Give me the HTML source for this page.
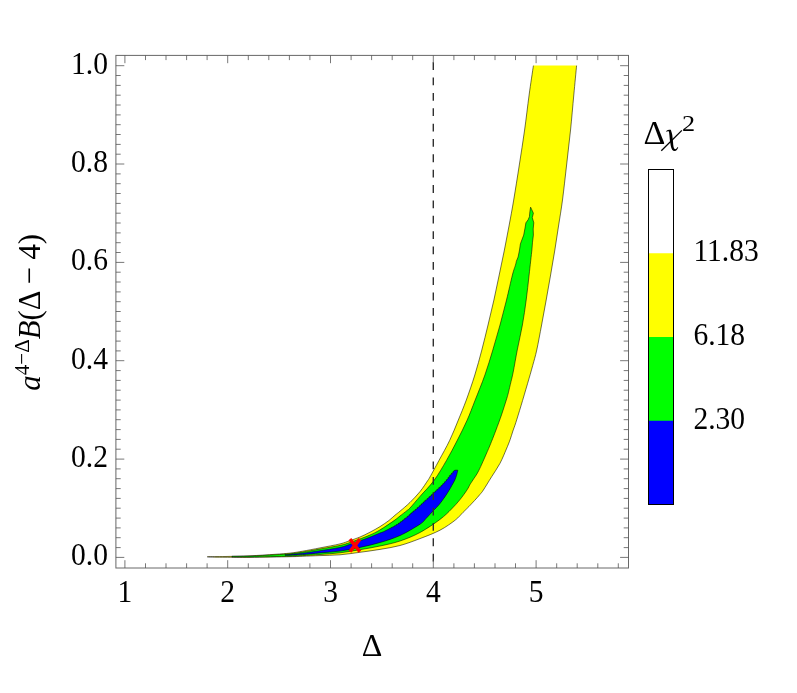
<!DOCTYPE html>
<html><head><meta charset="utf-8"><title>Contour plot</title>
<style>html,body{margin:0;padding:0;background:#fff;}body{width:797px;height:693px;position:relative;overflow:hidden;font-family:"Liberation Serif",serif;}</style>
</head><body>
<svg width="797" height="693" viewBox="0 0 797 693" style="position:absolute;left:0;top:0;will-change:transform">
<rect width="797" height="693" fill="#fff"/>
<path d="M207.30,556.68 C210.25,556.65 217.88,556.65 225.00,556.50 C232.12,556.35 241.67,556.17 250.00,555.80 C258.33,555.43 268.33,554.75 275.00,554.30 C281.67,553.85 285.42,553.62 290.00,553.10 C294.58,552.58 297.50,552.07 302.50,551.20 C307.50,550.33 313.75,549.12 320.00,547.90 C326.25,546.68 335.00,545.12 340.00,543.90 C345.00,542.68 346.67,541.75 350.00,540.60 C353.33,539.45 356.67,538.40 360.00,537.00 C363.33,535.60 366.67,533.93 370.00,532.20 C373.33,530.47 376.85,528.55 380.00,526.60 C383.15,524.65 386.40,522.40 388.90,520.50 C391.40,518.60 393.15,516.75 395.00,515.20 C396.85,513.65 397.50,513.33 400.00,511.20 C402.50,509.07 406.67,505.67 410.00,502.40 C413.33,499.13 417.05,495.23 420.00,491.60 C422.95,487.97 426.03,483.05 427.70,480.60 C429.37,478.15 428.13,480.23 430.00,476.90 C431.87,473.57 435.62,466.70 438.90,460.60 C442.18,454.50 446.47,447.07 449.70,440.31 C452.93,433.55 455.53,426.77 458.30,420.05 C461.07,413.33 463.55,407.51 466.30,400.00 C469.05,392.49 472.22,383.33 474.80,375.00 C477.38,366.67 479.60,358.33 481.80,350.00 C484.00,341.67 485.98,333.33 488.00,325.00 C490.02,316.67 492.03,308.33 493.90,300.00 C495.77,291.67 497.45,283.33 499.20,275.00 C500.95,266.67 502.73,258.33 504.40,250.00 C506.07,241.67 507.65,233.33 509.20,225.00 C510.75,216.67 512.02,210.00 513.70,200.00 C515.38,190.00 517.48,176.67 519.30,165.00 C521.12,153.33 522.97,141.67 524.60,130.00 C526.23,118.33 527.63,105.73 529.10,95.00 C530.57,84.27 532.68,70.50 533.40,65.60 L576.60,65.60 C576.13,70.50 574.81,84.27 573.80,95.00 C572.79,105.73 571.75,118.33 570.55,130.00 C569.35,141.67 567.94,153.33 566.60,165.00 C565.26,176.67 563.82,190.00 562.50,200.00 C561.18,210.00 559.98,216.67 558.70,225.00 C557.43,233.33 556.20,241.67 554.85,250.00 C553.50,258.33 552.04,266.67 550.60,275.00 C549.16,283.33 547.70,291.67 546.20,300.00 C544.70,308.33 543.18,316.67 541.60,325.00 C540.02,333.33 538.23,343.23 536.75,350.00 C535.27,356.77 534.24,359.97 532.70,365.60 C531.16,371.23 529.45,377.10 527.50,383.80 C525.55,390.50 522.95,399.32 521.00,405.80 C519.05,412.28 517.15,418.50 515.80,422.70 C514.45,426.90 513.85,428.17 512.90,431.00 C511.95,433.83 511.18,436.70 510.10,439.70 C509.02,442.70 508.08,445.07 506.40,449.00 C504.72,452.93 502.47,458.67 500.00,463.30 C497.53,467.93 494.37,472.35 491.60,476.80 C488.83,481.25 485.33,487.07 483.40,490.00 C481.47,492.93 481.47,492.65 480.00,494.40 C478.53,496.15 476.45,498.47 474.60,500.50 C472.75,502.53 470.82,504.63 468.90,506.60 C466.98,508.57 465.37,510.05 463.10,512.30 C460.83,514.55 459.15,517.09 455.30,520.07 C451.45,523.05 445.88,527.11 440.00,530.20 C434.12,533.29 426.67,536.05 420.00,538.60 C413.33,541.15 406.67,543.70 400.00,545.50 C393.33,547.30 386.67,548.27 380.00,549.40 C373.33,550.53 366.67,551.40 360.00,552.30 C353.33,553.20 346.67,554.25 340.00,554.80 C333.33,555.35 326.25,555.35 320.00,555.60 C313.75,555.85 307.50,556.12 302.50,556.30 C297.50,556.48 298.75,556.51 290.00,556.69 C281.25,556.87 260.83,557.29 250.00,557.39 C239.17,557.49 232.12,557.36 225.00,557.29 C217.88,557.22 210.25,557.04 207.30,556.99 Z" fill="#ffff00"/>
<path d="M207.30,556.68 C210.25,556.65 217.88,556.65 225.00,556.50 C232.12,556.35 241.67,556.17 250.00,555.80 C258.33,555.43 268.33,554.75 275.00,554.30 C281.67,553.85 285.42,553.62 290.00,553.10 C294.58,552.58 297.50,552.07 302.50,551.20 C307.50,550.33 313.75,549.12 320.00,547.90 C326.25,546.68 335.00,545.12 340.00,543.90 C345.00,542.68 346.67,541.75 350.00,540.60 C353.33,539.45 356.67,538.40 360.00,537.00 C363.33,535.60 366.67,533.93 370.00,532.20 C373.33,530.47 376.85,528.55 380.00,526.60 C383.15,524.65 386.40,522.40 388.90,520.50 C391.40,518.60 393.15,516.75 395.00,515.20 C396.85,513.65 397.50,513.33 400.00,511.20 C402.50,509.07 406.67,505.67 410.00,502.40 C413.33,499.13 417.05,495.23 420.00,491.60 C422.95,487.97 426.03,483.05 427.70,480.60 C429.37,478.15 428.13,480.23 430.00,476.90 C431.87,473.57 435.62,466.70 438.90,460.60 C442.18,454.50 446.47,447.07 449.70,440.31 C452.93,433.55 455.53,426.77 458.30,420.05 C461.07,413.33 463.55,407.51 466.30,400.00 C469.05,392.49 472.22,383.33 474.80,375.00 C477.38,366.67 479.60,358.33 481.80,350.00 C484.00,341.67 485.98,333.33 488.00,325.00 C490.02,316.67 492.03,308.33 493.90,300.00 C495.77,291.67 497.45,283.33 499.20,275.00 C500.95,266.67 502.73,258.33 504.40,250.00 C506.07,241.67 507.65,233.33 509.20,225.00 C510.75,216.67 512.02,210.00 513.70,200.00 C515.38,190.00 517.48,176.67 519.30,165.00 C521.12,153.33 522.97,141.67 524.60,130.00 C526.23,118.33 527.63,105.73 529.10,95.00 C530.57,84.27 532.68,70.50 533.40,65.60 " fill="none" stroke="#000" stroke-opacity="0.55" stroke-width="1.0" stroke-linejoin="round"/>
<path d="M207.30,556.99 C210.25,557.04 217.88,557.22 225.00,557.29 C232.12,557.36 239.17,557.49 250.00,557.39 C260.83,557.29 281.25,556.87 290.00,556.69 C298.75,556.51 297.50,556.48 302.50,556.30 C307.50,556.12 313.75,555.85 320.00,555.60 C326.25,555.35 333.33,555.35 340.00,554.80 C346.67,554.25 353.33,553.20 360.00,552.30 C366.67,551.40 373.33,550.53 380.00,549.40 C386.67,548.27 393.33,547.30 400.00,545.50 C406.67,543.70 413.33,541.15 420.00,538.60 C426.67,536.05 434.12,533.29 440.00,530.20 C445.88,527.11 451.45,523.05 455.30,520.07 C459.15,517.09 460.83,514.55 463.10,512.30 C465.37,510.05 466.98,508.57 468.90,506.60 C470.82,504.63 472.75,502.53 474.60,500.50 C476.45,498.47 478.53,496.15 480.00,494.40 C481.47,492.65 481.47,492.93 483.40,490.00 C485.33,487.07 488.83,481.25 491.60,476.80 C494.37,472.35 497.53,467.93 500.00,463.30 C502.47,458.67 504.72,452.93 506.40,449.00 C508.08,445.07 509.02,442.70 510.10,439.70 C511.18,436.70 511.95,433.83 512.90,431.00 C513.85,428.17 514.45,426.90 515.80,422.70 C517.15,418.50 519.05,412.28 521.00,405.80 C522.95,399.32 525.55,390.50 527.50,383.80 C529.45,377.10 531.16,371.23 532.70,365.60 C534.24,359.97 535.27,356.77 536.75,350.00 C538.23,343.23 540.02,333.33 541.60,325.00 C543.18,316.67 544.70,308.33 546.20,300.00 C547.70,291.67 549.16,283.33 550.60,275.00 C552.04,266.67 553.50,258.33 554.85,250.00 C556.20,241.67 557.43,233.33 558.70,225.00 C559.98,216.67 561.18,210.00 562.50,200.00 C563.82,190.00 565.26,176.67 566.60,165.00 C567.94,153.33 569.35,141.67 570.55,130.00 C571.75,118.33 572.79,105.73 573.80,95.00 C574.81,84.27 576.13,70.50 576.60,65.60 " fill="none" stroke="#000" stroke-opacity="0.55" stroke-width="1.0" stroke-linejoin="round"/>
<path d="M232.00,556.28 C235.00,556.25 242.83,556.35 250.00,556.10 C257.17,555.85 268.33,555.18 275.00,554.80 C281.67,554.42 285.42,554.25 290.00,553.80 C294.58,553.35 297.50,552.90 302.50,552.10 C307.50,551.30 313.75,550.12 320.00,549.00 C326.25,547.88 335.00,546.48 340.00,545.40 C345.00,544.32 346.67,543.58 350.00,542.50 C353.33,541.42 356.67,540.20 360.00,538.95 C363.33,537.70 366.67,536.51 370.00,535.00 C373.33,533.49 375.98,532.30 380.00,529.90 C384.02,527.50 390.77,522.92 394.10,520.60 C397.43,518.28 397.82,517.70 400.00,516.00 C402.18,514.30 405.53,511.73 407.20,510.40 C408.87,509.07 407.87,510.33 410.00,508.00 C412.13,505.67 416.02,500.97 420.00,496.40 C423.98,491.83 429.48,486.60 433.90,480.60 C438.32,474.60 442.58,467.16 446.50,460.40 C450.42,453.65 453.95,446.81 457.40,440.08 C460.85,433.34 464.23,426.68 467.20,420.00 C470.17,413.32 472.25,407.50 475.20,400.00 C478.15,392.50 481.97,383.33 484.90,375.00 C487.83,366.67 490.28,358.33 492.80,350.00 C495.32,341.67 497.72,333.33 500.00,325.00 C502.28,316.67 504.43,308.33 506.50,300.00 C508.57,291.67 510.90,280.85 512.40,275.00 C513.90,269.15 514.85,267.17 515.50,264.90 C516.15,262.63 516.17,261.98 516.30,261.40 L516.30,261.40 L518.10,257.00 L519.50,250.00 L520.40,243.90 L522.00,239.50 L523.70,235.10 L525.00,228.10 L525.90,222.80 L528.10,219.80 L529.40,216.70 L529.90,211.40 L530.60,207.20 L530.60,207.20 L531.80,209.70 L533.40,213.20 L532.30,217.60 L533.80,222.80 L533.20,229.00 L533.40,235.10 L532.50,242.20 L531.90,250.00 L531.90,250.00 C531.43,254.17 530.05,266.67 529.10,275.00 C528.15,283.33 527.32,291.67 526.20,300.00 C525.08,308.33 523.89,316.67 522.40,325.00 C520.91,333.33 518.78,342.15 517.25,350.00 C515.72,357.85 514.36,366.33 513.20,372.10 C512.04,377.87 511.17,380.92 510.30,384.60 C509.43,388.28 508.67,391.63 508.00,394.20 C507.33,396.77 507.38,396.55 506.30,400.00 C505.22,403.45 503.22,409.90 501.50,414.90 C499.78,419.90 497.65,425.60 496.00,430.00 C494.35,434.40 493.05,437.70 491.60,441.30 C490.15,444.90 489.45,446.70 487.30,451.60 C485.15,456.50 481.10,465.97 478.70,470.70 C476.30,475.43 474.35,477.70 472.90,480.00 C471.45,482.30 470.97,482.87 470.00,484.50 C469.03,486.13 468.77,487.28 467.10,489.80 C465.43,492.32 462.60,496.40 460.00,499.60 C457.40,502.80 454.83,505.73 451.50,509.03 C448.17,512.33 445.25,515.49 440.00,519.40 C434.75,523.31 426.67,528.90 420.00,532.50 C413.33,536.10 406.67,538.75 400.00,541.00 C393.33,543.25 386.67,544.55 380.00,546.00 C373.33,547.45 366.67,548.57 360.00,549.70 C353.33,550.83 346.67,552.00 340.00,552.80 C333.33,553.60 326.25,554.03 320.00,554.50 C313.75,554.97 307.50,555.32 302.50,555.60 C297.50,555.88 298.75,555.97 290.00,556.20 C281.25,556.43 259.67,556.86 250.00,556.99 C240.33,557.12 235.00,556.99 232.00,556.99 Z" fill="#00ff00" stroke="#000" stroke-opacity="0.55" stroke-width="1.0" stroke-linejoin="round"/>
<path d="M285.00,554.90 L285.16,554.89 L285.33,554.88 L285.52,554.86 L285.72,554.85 L285.94,554.83 L286.18,554.82 L286.44,554.80 L286.72,554.78 L287.02,554.76 L287.36,554.73 L287.72,554.70 L288.11,554.67 L288.53,554.64 L288.98,554.60 L289.47,554.55 L290.00,554.50 L290.22,554.48 L290.44,554.46 L290.67,554.44 L290.90,554.41 L291.14,554.39 L291.38,554.37 L291.63,554.35 L291.89,554.32 L292.15,554.30 L292.41,554.27 L292.68,554.25 L292.96,554.22 L293.24,554.20 L293.52,554.17 L293.81,554.14 L294.10,554.11 L294.40,554.09 L294.70,554.06 L295.00,554.03 L295.31,554.00 L295.63,553.97 L295.94,553.93 L296.26,553.90 L296.58,553.87 L296.91,553.84 L297.24,553.80 L297.57,553.77 L297.91,553.73 L298.25,553.70 L298.59,553.66 L298.93,553.62 L299.28,553.58 L299.63,553.54 L299.98,553.50 L300.34,553.46 L300.69,553.42 L301.05,553.38 L301.41,553.34 L301.77,553.29 L302.13,553.25 L302.50,553.20 L302.76,553.17 L303.02,553.13 L303.29,553.10 L303.55,553.07 L303.82,553.03 L304.09,553.00 L304.36,552.96 L304.64,552.92 L304.91,552.89 L305.19,552.85 L305.47,552.81 L305.75,552.77 L306.04,552.74 L306.32,552.70 L306.61,552.66 L306.90,552.62 L307.19,552.58 L307.48,552.54 L307.77,552.50 L308.07,552.46 L308.36,552.42 L308.66,552.38 L308.96,552.33 L309.26,552.29 L309.56,552.25 L309.87,552.21 L310.17,552.16 L310.47,552.12 L310.78,552.08 L311.09,552.03 L311.40,551.99 L311.71,551.94 L312.02,551.90 L312.33,551.85 L312.64,551.81 L312.96,551.76 L313.27,551.71 L313.59,551.67 L313.90,551.62 L314.22,551.57 L314.54,551.53 L314.85,551.48 L315.17,551.43 L315.49,551.39 L315.81,551.34 L316.13,551.29 L316.45,551.24 L316.77,551.19 L317.10,551.14 L317.42,551.10 L317.74,551.05 L318.06,551.00 L318.38,550.95 L318.71,550.90 L319.03,550.85 L319.35,550.80 L319.68,550.75 L320.00,550.70 L320.28,550.66 L320.57,550.61 L320.85,550.57 L321.14,550.52 L321.44,550.48 L321.73,550.43 L322.03,550.39 L322.34,550.34 L322.64,550.30 L322.94,550.25 L323.25,550.20 L323.56,550.15 L323.87,550.11 L324.19,550.06 L324.50,550.01 L324.82,549.96 L325.14,549.91 L325.46,549.87 L325.78,549.82 L326.10,549.77 L326.42,549.72 L326.74,549.67 L327.07,549.62 L327.39,549.57 L327.72,549.52 L328.04,549.47 L328.36,549.42 L328.69,549.37 L329.01,549.32 L329.34,549.27 L329.66,549.22 L329.99,549.16 L330.31,549.11 L330.63,549.06 L330.95,549.01 L331.27,548.96 L331.59,548.91 L331.91,548.86 L332.22,548.81 L332.54,548.75 L332.85,548.70 L333.16,548.65 L333.47,548.60 L333.78,548.55 L334.08,548.50 L334.39,548.45 L334.69,548.40 L334.98,548.34 L335.28,548.29 L335.57,548.24 L335.86,548.19 L336.15,548.14 L336.43,548.09 L336.71,548.04 L336.99,547.99 L337.26,547.94 L337.53,547.89 L337.80,547.84 L338.06,547.79 L338.32,547.74 L338.57,547.69 L338.82,547.64 L339.07,547.59 L339.31,547.54 L339.54,547.50 L339.77,547.45 L340.00,547.40 L340.43,547.31 L340.85,547.21 L341.25,547.12 L341.63,547.03 L342.01,546.94 L342.36,546.85 L342.71,546.76 L343.04,546.67 L343.36,546.58 L343.67,546.49 L343.98,546.40 L344.27,546.31 L344.55,546.22 L344.83,546.13 L345.10,546.04 L345.37,545.95 L345.62,545.86 L345.88,545.77 L346.13,545.68 L346.38,545.59 L346.63,545.51 L346.87,545.42 L347.12,545.33 L347.36,545.23 L347.61,545.14 L347.86,545.05 L348.11,544.96 L348.36,544.87 L348.62,544.78 L348.88,544.68 L349.15,544.59 L349.43,544.49 L349.71,544.40 L350.00,544.30 L350.29,544.21 L350.57,544.11 L350.86,544.02 L351.14,543.92 L351.43,543.82 L351.71,543.73 L352.00,543.63 L352.29,543.53 L352.57,543.43 L352.86,543.33 L353.14,543.24 L353.43,543.14 L353.71,543.04 L354.00,542.94 L354.29,542.84 L354.57,542.74 L354.86,542.64 L355.14,542.54 L355.43,542.44 L355.71,542.33 L356.00,542.23 L356.29,542.13 L356.57,542.03 L356.86,541.93 L357.14,541.83 L357.43,541.72 L357.71,541.62 L358.00,541.52 L358.29,541.42 L358.57,541.31 L358.86,541.21 L359.14,541.11 L359.43,541.01 L359.71,540.90 L360.00,540.80 L360.29,540.70 L360.57,540.59 L360.86,540.49 L361.14,540.39 L361.43,540.29 L361.71,540.18 L362.00,540.08 L362.29,539.98 L362.57,539.87 L362.86,539.77 L363.14,539.67 L363.43,539.56 L363.71,539.46 L364.00,539.35 L364.29,539.25 L364.57,539.14 L364.86,539.04 L365.14,538.93 L365.43,538.83 L365.71,538.72 L366.00,538.62 L366.29,538.51 L366.57,538.41 L366.86,538.30 L367.14,538.19 L367.43,538.08 L367.71,537.98 L368.00,537.87 L368.29,537.76 L368.57,537.65 L368.86,537.54 L369.14,537.43 L369.43,537.32 L369.71,537.21 L370.00,537.10 L370.28,536.99 L370.56,536.88 L370.85,536.77 L371.13,536.65 L371.42,536.54 L371.72,536.42 L372.01,536.30 L372.30,536.18 L372.60,536.06 L372.89,535.94 L373.19,535.82 L373.49,535.70 L373.79,535.58 L374.08,535.46 L374.38,535.33 L374.67,535.21 L374.97,535.09 L375.26,534.97 L375.55,534.85 L375.84,534.73 L376.13,534.61 L376.42,534.49 L376.70,534.37 L376.98,534.26 L377.25,534.14 L377.53,534.03 L377.80,533.91 L378.06,533.80 L378.32,533.70 L378.58,533.59 L378.83,533.49 L379.07,533.38 L379.31,533.28 L379.55,533.19 L379.78,533.09 L380.00,533.00 L380.37,532.85 L380.71,532.72 L381.02,532.60 L381.29,532.50 L381.55,532.41 L381.78,532.33 L382.01,532.26 L382.22,532.19 L382.43,532.12 L382.64,532.04 L382.85,531.97 L383.08,531.88 L383.32,531.79 L383.57,531.68 L383.86,531.55 L384.17,531.41 L384.51,531.25 L384.90,531.06 L385.33,530.84 L385.80,530.60 L385.99,530.50 L386.18,530.41 L386.39,530.31 L386.59,530.21 L386.78,530.07 L387.00,529.96 L387.22,529.85 L387.44,529.74 L387.67,529.63 L387.91,529.52 L388.16,529.42 L388.41,529.31 L388.66,529.21 L388.92,529.11 L389.08,528.80 L389.34,528.68 L389.61,528.57 L389.89,528.46 L390.16,528.35 L390.45,528.25 L390.74,528.14 L391.03,528.04 L391.33,527.94 L391.43,527.48 L391.73,527.37 L392.03,527.26 L392.34,527.15 L392.65,527.05 L392.96,526.95 L393.28,526.86 L393.60,526.76 L393.93,526.67 L393.96,526.06 L394.28,525.96 L394.61,525.86 L394.94,525.76 L395.27,525.67 L395.60,525.58 L395.94,525.49 L396.28,525.41 L396.22,524.66 L396.56,524.57 L396.89,524.48 L397.23,524.39 L397.57,524.30 L397.91,524.22 L398.26,524.14 L398.60,524.05 L398.44,523.21 L398.78,523.12 L399.11,523.03 L399.44,522.94 L399.77,522.84 L400.10,522.74 L400.39,522.66 L400.68,522.57 L400.45,521.75 L400.74,521.65 L401.04,521.56 L401.34,521.46 L401.65,521.35 L401.95,521.25 L402.26,521.14 L402.58,521.03 L402.89,520.92 L402.65,520.10 L402.97,519.98 L403.29,519.87 L403.61,519.75 L403.93,519.63 L404.26,519.51 L404.58,519.38 L404.91,519.26 L404.66,518.44 L404.99,518.31 L405.31,518.18 L405.64,518.06 L405.97,517.93 L406.29,517.80 L406.62,517.67 L406.95,517.53 L407.27,517.40 L407.01,516.59 L407.34,516.45 L407.66,516.32 L407.98,516.19 L408.30,516.06 L408.62,515.93 L408.94,515.79 L409.25,515.66 L408.97,514.85 L409.28,514.72 L409.59,514.59 L409.90,514.47 L410.20,514.34 L410.50,514.21 L410.80,514.09 L411.09,513.96 L410.79,513.16 L411.08,513.04 L411.36,512.92 L411.64,512.80 L411.92,512.69 L412.19,512.57 L412.46,512.46 L412.72,512.35 L412.98,512.24 L413.23,512.13 L412.89,511.35 L413.13,511.25 L413.37,511.15 L413.61,511.05 L413.83,510.96 L414.06,510.87 L414.27,510.78 L414.48,510.70 L414.96,510.50 L415.38,510.33 L415.17,509.50 L415.49,509.37 L415.76,509.26 L416.00,509.17 L416.21,509.08 L416.39,509.01 L416.55,508.94 L416.70,508.88 L416.84,508.82 L416.98,508.76 L417.12,508.70 L417.28,508.63 L417.44,508.56 L417.02,507.81 L417.23,507.72 L417.47,507.60 L417.75,507.48 L418.08,507.33 L418.45,507.16 L418.88,506.97 L419.37,506.74 L419.32,505.83 L419.95,505.55 L420.14,505.46 L420.34,505.38 L420.54,505.29 L420.75,505.19 L420.96,505.10 L421.19,505.00 L421.41,504.90 L421.04,504.13 L421.28,504.02 L421.52,503.91 L421.77,503.80 L422.02,503.69 L422.28,503.57 L422.55,503.45 L422.82,503.33 L423.09,503.21 L423.37,503.09 L423.04,502.30 L423.33,502.17 L423.62,502.04 L423.91,501.91 L424.21,501.77 L424.51,501.64 L424.82,501.50 L425.13,501.36 L424.83,500.56 L425.14,500.42 L425.46,500.28 L425.78,500.14 L426.10,499.99 L426.43,499.85 L426.75,499.70 L427.08,499.55 L427.41,499.40 L427.14,498.59 L427.47,498.44 L427.81,498.29 L428.14,498.14 L428.48,497.99 L428.82,497.84 L429.16,497.68 L428.89,496.87 L429.23,496.72 L429.57,496.56 L429.91,496.41 L430.25,496.26 L430.60,496.10 L430.94,495.95 L431.28,495.79 L431.01,494.98 L431.35,494.83 L431.69,494.67 L432.02,494.52 L432.36,494.37 L432.70,494.22 L433.03,494.07 L433.36,493.92 L433.08,493.11 L433.41,492.96 L433.74,492.81 L434.06,492.66 L434.39,492.52 L434.71,492.37 L435.02,492.23 L435.34,492.08 L435.04,491.28 L435.34,491.14 L435.65,491.00 L435.95,490.87 L436.25,490.73 L436.54,490.59 L436.83,490.46 L437.12,490.33 L436.79,489.54 L437.07,489.42 L437.34,489.29 L437.61,489.17 L437.88,489.04 L438.14,488.92 L438.39,488.81 L438.64,488.69 L438.88,488.58 L439.12,488.47 L438.74,487.70 L438.96,487.60 L439.19,487.50 L439.40,487.39 L439.61,487.30 L439.81,487.20 L440.01,487.11 L440.57,486.84 L441.10,486.59 L440.96,485.71 L441.42,485.48 L441.85,485.27 L442.26,485.07 L442.63,484.88 L442.99,484.70 L442.67,483.90 L442.98,483.75 L443.27,483.59 L443.54,483.45 L443.79,483.31 L444.03,483.18 L444.26,483.05 L444.48,482.93 L444.69,482.81 L444.89,482.69 L444.40,481.99 L444.59,481.87 L444.77,481.76 L444.95,481.65 L445.14,481.54 L445.32,481.42 L445.52,481.30 L445.71,481.18 L445.92,481.06 L446.13,480.93 L446.35,480.80 L446.59,480.66 L446.23,479.88 L446.54,479.68 L446.85,479.49 L447.15,479.30 L447.45,479.10 L447.74,478.91 L448.02,478.72 L448.30,478.52 L447.86,477.79 L448.13,477.61 L448.39,477.42 L448.65,477.24 L448.91,477.05 L449.17,476.87 L449.42,476.69 L449.67,476.52 L449.92,476.34 L449.46,475.63 L449.71,475.46 L449.96,475.29 L450.22,475.12 L450.47,474.96 L450.79,474.77 L451.11,474.57 L451.45,474.38 L451.78,474.18 L451.45,473.39 L451.78,473.20 L452.12,473.01 L452.45,472.82 L452.78,472.64 L453.09,472.47 L453.39,472.30 L453.02,471.53 L453.30,471.38 L453.55,471.24 L453.79,471.12 L454.00,471.00 L454.18,470.90 L454.34,470.81 L454.70,470.26 L457.70,470.17 L457.70,470.73 C457.50,471.50 456.98,473.80 456.50,475.35 C456.02,476.91 455.58,478.38 454.80,480.08 C454.02,481.77 452.75,483.83 451.80,485.52 C450.85,487.22 450.27,488.36 449.10,490.26 C447.93,492.16 446.45,494.56 444.80,496.93 C443.15,499.30 441.13,502.19 439.20,504.50 C437.27,506.81 435.37,508.50 433.20,510.80 C431.03,513.10 428.40,516.07 426.20,518.30 C424.00,520.53 424.37,521.33 420.00,524.20 C415.63,527.07 406.67,532.45 400.00,535.50 C393.33,538.55 386.67,540.52 380.00,542.50 C373.33,544.48 366.67,545.97 360.00,547.40 C353.33,548.83 346.67,550.18 340.00,551.10 C333.33,552.02 326.25,552.32 320.00,552.90 C313.75,553.48 307.50,554.22 302.50,554.60 C297.50,554.98 292.92,555.10 290.00,555.20 C287.08,555.30 285.83,555.20 285.00,555.20 Z" fill="#0000ff" stroke="#000" stroke-opacity="0.55" stroke-width="1.0" stroke-linejoin="round"/>
<line x1="433.3" y1="62.2" x2="433.3" y2="562" stroke="#303030" stroke-width="1.4" stroke-dasharray="7.8 7.56"/>
<g stroke="#ff0000" stroke-width="3.5"><line x1="349.9" y1="539.1" x2="359.9" y2="551.7"/><line x1="349.9" y1="551.7" x2="359.9" y2="539.1"/></g>
<rect x="115.9" y="55.4" width="512.6" height="512.6" fill="none" stroke="#686868" stroke-width="1.0"/>
<path d="M124.9,568.0 v-7.8 M124.9,55.4 v7.8 M145.5,568.0 v-4.7 M145.5,55.4 v4.7 M166.0,568.0 v-4.7 M166.0,55.4 v4.7 M186.6,568.0 v-4.7 M186.6,55.4 v4.7 M207.1,568.0 v-4.7 M207.1,55.4 v4.7 M227.7,568.0 v-7.8 M227.7,55.4 v7.8 M248.3,568.0 v-4.7 M248.3,55.4 v4.7 M268.8,568.0 v-4.7 M268.8,55.4 v4.7 M289.4,568.0 v-4.7 M289.4,55.4 v4.7 M309.9,568.0 v-4.7 M309.9,55.4 v4.7 M330.5,568.0 v-7.8 M330.5,55.4 v7.8 M351.1,568.0 v-4.7 M351.1,55.4 v4.7 M371.6,568.0 v-4.7 M371.6,55.4 v4.7 M392.2,568.0 v-4.7 M392.2,55.4 v4.7 M412.7,568.0 v-4.7 M412.7,55.4 v4.7 M433.3,568.0 v-7.8 M433.3,55.4 v7.8 M453.9,568.0 v-4.7 M453.9,55.4 v4.7 M474.4,568.0 v-4.7 M474.4,55.4 v4.7 M495.0,568.0 v-4.7 M495.0,55.4 v4.7 M515.5,568.0 v-4.7 M515.5,55.4 v4.7 M536.1,568.0 v-7.8 M536.1,55.4 v7.8 M556.7,568.0 v-4.7 M556.7,55.4 v4.7 M577.2,568.0 v-4.7 M577.2,55.4 v4.7 M597.8,568.0 v-4.7 M597.8,55.4 v4.7 M618.3,568.0 v-4.7 M618.3,55.4 v4.7 M115.9,557.4 h8.4 M628.5,557.4 h-8.4 M115.9,547.6 h4.8 M628.5,547.6 h-4.8 M115.9,537.7 h4.8 M628.5,537.7 h-4.8 M115.9,527.9 h4.8 M628.5,527.9 h-4.8 M115.9,518.1 h4.8 M628.5,518.1 h-4.8 M115.9,508.2 h4.8 M628.5,508.2 h-4.8 M115.9,498.4 h4.8 M628.5,498.4 h-4.8 M115.9,488.6 h4.8 M628.5,488.6 h-4.8 M115.9,478.7 h4.8 M628.5,478.7 h-4.8 M115.9,468.9 h4.8 M628.5,468.9 h-4.8 M115.9,459.1 h8.4 M628.5,459.1 h-8.4 M115.9,449.2 h4.8 M628.5,449.2 h-4.8 M115.9,439.4 h4.8 M628.5,439.4 h-4.8 M115.9,429.6 h4.8 M628.5,429.6 h-4.8 M115.9,419.7 h4.8 M628.5,419.7 h-4.8 M115.9,409.9 h4.8 M628.5,409.9 h-4.8 M115.9,400.1 h4.8 M628.5,400.1 h-4.8 M115.9,390.2 h4.8 M628.5,390.2 h-4.8 M115.9,380.4 h4.8 M628.5,380.4 h-4.8 M115.9,370.6 h4.8 M628.5,370.6 h-4.8 M115.9,360.7 h8.4 M628.5,360.7 h-8.4 M115.9,350.9 h4.8 M628.5,350.9 h-4.8 M115.9,341.1 h4.8 M628.5,341.1 h-4.8 M115.9,331.2 h4.8 M628.5,331.2 h-4.8 M115.9,321.4 h4.8 M628.5,321.4 h-4.8 M115.9,311.5 h4.8 M628.5,311.5 h-4.8 M115.9,301.7 h4.8 M628.5,301.7 h-4.8 M115.9,291.9 h4.8 M628.5,291.9 h-4.8 M115.9,282.0 h4.8 M628.5,282.0 h-4.8 M115.9,272.2 h4.8 M628.5,272.2 h-4.8 M115.9,262.4 h8.4 M628.5,262.4 h-8.4 M115.9,252.5 h4.8 M628.5,252.5 h-4.8 M115.9,242.7 h4.8 M628.5,242.7 h-4.8 M115.9,232.9 h4.8 M628.5,232.9 h-4.8 M115.9,223.0 h4.8 M628.5,223.0 h-4.8 M115.9,213.2 h4.8 M628.5,213.2 h-4.8 M115.9,203.4 h4.8 M628.5,203.4 h-4.8 M115.9,193.5 h4.8 M628.5,193.5 h-4.8 M115.9,183.7 h4.8 M628.5,183.7 h-4.8 M115.9,173.9 h4.8 M628.5,173.9 h-4.8 M115.9,164.0 h8.4 M628.5,164.0 h-8.4 M115.9,154.2 h4.8 M628.5,154.2 h-4.8 M115.9,144.4 h4.8 M628.5,144.4 h-4.8 M115.9,134.5 h4.8 M628.5,134.5 h-4.8 M115.9,124.7 h4.8 M628.5,124.7 h-4.8 M115.9,114.9 h4.8 M628.5,114.9 h-4.8 M115.9,105.0 h4.8 M628.5,105.0 h-4.8 M115.9,95.2 h4.8 M628.5,95.2 h-4.8 M115.9,85.4 h4.8 M628.5,85.4 h-4.8 M115.9,75.5 h4.8 M628.5,75.5 h-4.8 M115.9,65.7 h8.4 M628.5,65.7 h-8.4" stroke="#555" stroke-width="0.8" fill="none"/>
<text transform="translate(124.9,601.6) scale(0.923,1)" text-anchor="middle" font-family="Liberation Serif, serif" font-size="32" fill="#000" >1</text>
<text transform="translate(227.7,601.6) scale(0.923,1)" text-anchor="middle" font-family="Liberation Serif, serif" font-size="32" fill="#000" >2</text>
<text transform="translate(330.5,601.6) scale(0.923,1)" text-anchor="middle" font-family="Liberation Serif, serif" font-size="32" fill="#000" >3</text>
<text transform="translate(433.3,601.6) scale(0.923,1)" text-anchor="middle" font-family="Liberation Serif, serif" font-size="32" fill="#000" >4</text>
<text transform="translate(536.1,601.6) scale(0.923,1)" text-anchor="middle" font-family="Liberation Serif, serif" font-size="32" fill="#000" >5</text>
<text transform="translate(108.0,565.4) scale(0.923,1)" text-anchor="end" font-family="Liberation Serif, serif" font-size="32" fill="#000" >0.0</text>
<text transform="translate(108.0,467.1) scale(0.923,1)" text-anchor="end" font-family="Liberation Serif, serif" font-size="32" fill="#000" >0.2</text>
<text transform="translate(108.0,368.7) scale(0.923,1)" text-anchor="end" font-family="Liberation Serif, serif" font-size="32" fill="#000" >0.4</text>
<text transform="translate(108.0,270.4) scale(0.923,1)" text-anchor="end" font-family="Liberation Serif, serif" font-size="32" fill="#000" >0.6</text>
<text transform="translate(108.0,172.0) scale(0.923,1)" text-anchor="end" font-family="Liberation Serif, serif" font-size="32" fill="#000" >0.8</text>
<text transform="translate(108.0,73.7) scale(0.923,1)" text-anchor="end" font-family="Liberation Serif, serif" font-size="32" fill="#000" >1.0</text>
<text transform="translate(372.0,656.0) scale(1.000,1)" text-anchor="middle" font-family="Liberation Serif, serif" font-size="32" fill="#000" >Δ</text>
<text transform="translate(39.8,312.3) rotate(-90) scale(0.960,1)" text-anchor="middle" font-family="Liberation Serif, serif" font-size="32" fill="#000" ><tspan font-style="italic">a</tspan><tspan font-size="22" dy="-11">4−Δ</tspan><tspan dy="11" font-style="italic">B</tspan>(Δ − 4)</text>
<rect x="648.5" y="169.50" width="25.0" height="84.05" fill="#ffffff"/>
<rect x="648.5" y="253.25" width="25.0" height="84.05" fill="#ffff00"/>
<rect x="648.5" y="337.00" width="25.0" height="84.05" fill="#00ff00"/>
<rect x="648.5" y="420.75" width="25.0" height="84.05" fill="#0000ff"/>
<rect x="648.5" y="169.5" width="25.0" height="335.0" fill="none" stroke="#000" stroke-width="1"/>
<text transform="translate(693.4,261.2) scale(0.923,1)" text-anchor="start" font-family="Liberation Serif, serif" font-size="32" fill="#000" >11.83</text>
<text transform="translate(693.4,345.0) scale(0.923,1)" text-anchor="start" font-family="Liberation Serif, serif" font-size="32" fill="#000" >6.18</text>
<text transform="translate(693.4,428.8) scale(0.923,1)" text-anchor="start" font-family="Liberation Serif, serif" font-size="32" fill="#000" >2.30</text>
<text transform="translate(643.5,143.8) scale(1.015,1)" font-family="Liberation Serif, serif" font-size="33.5" fill="#000">Δ</text>
<g transform="translate(656,120) scale(0.051948)"><line x1="102" y1="592" x2="498" y2="200" stroke="#000" stroke-width="25"/><path d="M195,222 C205,200 225,188 250,187 L285,190 C300,230 315,280 318,330 L328,430 C332,500 340,545 360,560 C380,570 400,550 415,520 L428,525 C420,560 395,598 360,598 C320,598 295,560 285,500 L268,400 C262,330 258,270 250,225 C240,210 215,215 200,228 Z" fill="#000"/></g>
<text transform="translate(681.9,131.1) scale(1.14,1)" font-family="Liberation Serif, serif" font-size="23" fill="#000">2</text>
</svg>
</body></html>
